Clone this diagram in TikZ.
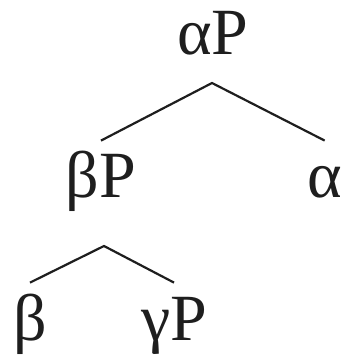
\documentclass[tikz,border=0pt]{standalone}
\usepackage{fontspec}
\setmainfont{Liberation Serif}
\usepackage{xcolor}
\usetikzlibrary{positioning}
\definecolor{ink}{HTML}{1E1E1E}
\tikzset{
  cat/.style={anchor=base, inner xsep=0pt, inner ysep=6.5pt, text height=22pt, text depth=7pt,
    font=\fontsize{33}{40}\selectfont, text=ink},
  branch/.style={draw=ink, line width=1.1pt},
}

\begin{document}
\begin{tikzpicture}[x=0.5pt, y=-0.5pt]
\useasboundingbox (0,0) rectangle (341,362);
\node[cat] (aP) at (213,55) {αP};
\node[cat] (bP) at (101,198) {βP};
\node[cat, anchor=base west] (alph) at (307,198) {α};
\node[cat] (bet) at (30,340) {β};
\node[cat] (gP) at (174,340) {γP};
\coordinate (aPfork) at (212,83);
\coordinate (bPfork) at (104,246);
\draw[branch] (bP.north) -- (aPfork) -- (alph.north);
\draw[branch] (bet.north) -- (bPfork) -- (gP.north);
\end{tikzpicture}
\end{document}
